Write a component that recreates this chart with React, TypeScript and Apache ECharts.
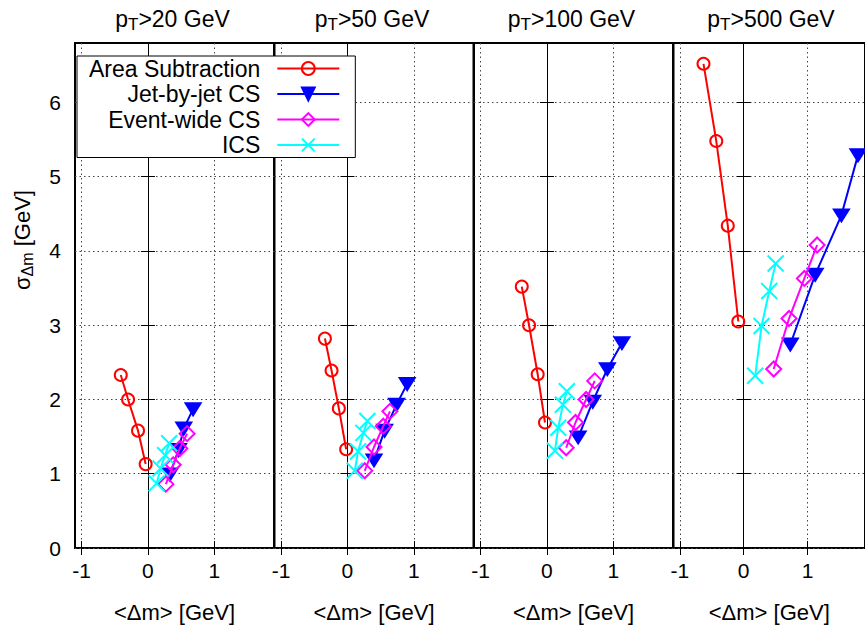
import React, { useEffect, useRef } from "react";
import * as echarts from "echarts";

const FONT = "'Liberation Sans', Arial, Helvetica, sans-serif";

const ptCuts = ["20", "50", "100", "500"];
const seriesNames = ["Area Subtraction", "Jet-by-jet CS", "Event-wide CS", "ICS"];
const xTickValues = [-1, 0, 1];
const yTickValues = [0, 1, 2, 3, 4, 5, 6];
const xRange = [-1.1, 1.9];
const yRange = [0, 6.8];

// [<Δm>, σ_Δm] per panel (pT > 20, 50, 100, 500 GeV)
const areaSubtraction = [
  [[-0.41, 2.33], [-0.30, 2.00], [-0.15, 1.58], [-0.035, 1.13]],
  [[-0.34, 2.82], [-0.24, 2.39], [-0.13, 1.88], [-0.02, 1.33]],
  [[-0.38, 3.52], [-0.27, 3.00], [-0.14, 2.34], [-0.03, 1.69]],
  [[-0.63, 6.52], [-0.43, 5.48], [-0.25, 4.34], [-0.085, 3.05]],
];
const jetByJetCS = [
  [[0.33, 0.99], [0.46, 1.32], [0.54, 1.61], [0.68, 1.87]],
  [[0.40, 1.18], [0.56, 1.58], [0.74, 1.93], [0.90, 2.21]],
  [[0.47, 1.49], [0.69, 1.97], [0.91, 2.41], [1.13, 2.76]],
  [[0.73, 2.74], [1.12, 3.68], [1.53, 4.48], [1.79, 5.29]],
];
const eventWideCS = [
  [[0.27, 0.86], [0.38, 1.12], [0.48, 1.34], [0.59, 1.54]],
  [[0.26, 1.04], [0.40, 1.36], [0.54, 1.64], [0.64, 1.84]],
  [[0.29, 1.35], [0.43, 1.69], [0.59, 2.00], [0.72, 2.25]],
  [[0.47, 2.41], [0.71, 3.09], [0.95, 3.63], [1.15, 4.08]],
];
const ics = [
  [[0.13, 0.87], [0.19, 1.07], [0.26, 1.25], [0.32, 1.41]],
  [[0.11, 1.04], [0.16, 1.30], [0.24, 1.55], [0.30, 1.71]],
  [[0.12, 1.31], [0.17, 1.62], [0.24, 1.93], [0.30, 2.11]],
  [[0.18, 2.32], [0.28, 2.99], [0.40, 3.46], [0.50, 3.83]],
];

const seriesData = [areaSubtraction, jetByJetCS, eventWideCS, ics];
const colors = ["#ff0000", "#0000ff", "#ff00ff", "#00ffff"];

const PANEL_LEFTS = [75, 274.5, 474, 673.5];
const PANEL_W = 199;
const PANEL_TOP = 43;
const PANEL_H = 505;

const symbolDefs = [
  { symbol: "circle", size: 12, fill: "rgba(0,0,0,0)" },
  { symbol: "path://M0,0L14,0L7,11Z", size: [15, 12], fill: "#0000ff" },
  { symbol: "diamond", size: 15, fill: "rgba(0,0,0,0)" },
  { symbol: "path://M0,0L10,10M10,0L0,10", size: 16, fill: "rgba(0,0,0,0)" },
];

export default function App() {
  const ref = useRef<HTMLDivElement>(null);
  useEffect(() => {
    if (!ref.current) return;
    const chart = echarts.init(ref.current, null, { renderer: "svg" });

    const grids: any[] = [];
    const xAxes: any[] = [];
    const yAxes: any[] = [];
    const series: any[] = [];
    const gridLineStyle = { color: "#444", width: 1, type: [1.5, 3] };

    PANEL_LEFTS.forEach((left, i) => {
      grids.push({
        left,
        top: PANEL_TOP,
        width: PANEL_W,
        height: PANEL_H,
        show: true,
        borderColor: "#000",
        borderWidth: 2,
        backgroundColor: "transparent",
        containLabel: false,
      });
      xAxes.push({
        type: "value",
        gridIndex: i,
        position: "bottom",
        min: xRange[0],
        max: xRange[1],
        axisLine: { show: false },
        axisTick: { show: true, inside: true, length: 7, customValues: xTickValues, lineStyle: { color: "#000", width: 1 } },
        axisLabel: { show: true, customValues: xTickValues, fontSize: 21, color: "#000", fontFamily: FONT, margin: 12 },
        splitLine: { show: true, lineStyle: gridLineStyle },
        name: "<Δm> [GeV]",
        nameLocation: "middle",
        nameGap: 53,
        nameTextStyle: { fontSize: 22, color: "#000", fontFamily: FONT },
      });
      xAxes.push({
        type: "value",
        gridIndex: i,
        position: "top",
        min: xRange[0],
        max: xRange[1],
        axisLine: { show: false },
        axisTick: { show: true, inside: true, length: 7, customValues: xTickValues, lineStyle: { color: "#000", width: 1 } },
        axisLabel: { show: false, customValues: xTickValues },
        splitLine: { show: false },
      });
      yAxes.push({
        type: "value",
        gridIndex: i,
        position: "left",
        min: yRange[0],
        max: yRange[1],
        axisLine: { show: false },
        axisTick: { show: true, inside: true, length: 7, customValues: yTickValues, lineStyle: { color: "#000", width: 1 } },
        axisLabel: { show: i === 0, customValues: yTickValues, fontSize: 21, color: "#000", fontFamily: FONT, margin: 14 },
        splitLine: { show: true, lineStyle: gridLineStyle },
      });
      yAxes.push({
        type: "value",
        gridIndex: i,
        position: "right",
        min: yRange[0],
        max: yRange[1],
        axisLine: { show: false },
        axisTick: { show: true, inside: true, length: 7, customValues: yTickValues, lineStyle: { color: "#000", width: 1 } },
        axisLabel: { show: false, customValues: yTickValues },
        splitLine: { show: false },
      });

      seriesNames.forEach((name, s) => {
        const sd = symbolDefs[s];
        const item: any = {
          type: "line",
          name,
          xAxisIndex: 2 * i,
          yAxisIndex: 2 * i,
          data: seriesData[s][i],
          symbol: sd.symbol,
          symbolSize: sd.size,
          showSymbol: true,
          showAllSymbol: true,
          lineStyle: { color: colors[s], width: 2 },
          itemStyle: { color: sd.fill, borderColor: colors[s], borderWidth: 2 },
          emphasis: { disabled: true },
          z: 3 + s,
        };
        if (s === 0) {
          item.markLine = {
            silent: true,
            symbol: ["none", "none"],
            label: { show: false },
            lineStyle: { color: "#000", width: 1, type: "solid" },
            emphasis: { disabled: true },
            data: [{ xAxis: 0 }],
            z: 1,
          };
        }
        series.push(item);
      });
    });

    const graphics: any[] = PANEL_LEFTS.map((left, i) => ({
      type: "text",
      x: left + PANEL_W / 2 - 2,
      y: 19,
      style: {
        text: `{p|p}{s|T}{p|>${ptCuts[i]} GeV}`,
        align: "center",
        verticalAlign: "middle",
        rich: {
          p: { fontSize: 23, fontFamily: FONT, fill: "#000", lineHeight: 28, verticalAlign: "middle" },
          s: { fontSize: 17, fontFamily: FONT, fill: "#000", lineHeight: 17, verticalAlign: "bottom" },
        },
      },
    }));
    graphics.push({
      type: "text",
      x: 22,
      y: 240,
      rotation: Math.PI / 2,
      style: {
        text: "{a|σ}{b|Δm}{a| [GeV]}",
        align: "center",
        verticalAlign: "middle",
        rich: {
          a: { fontSize: 22, fontFamily: FONT, fill: "#000", lineHeight: 27, verticalAlign: "middle" },
          b: { fontSize: 16, fontFamily: FONT, fill: "#000", lineHeight: 16, verticalAlign: "bottom" },
        },
      },
    });

    chart.setOption({
      animation: false,
      backgroundColor: "#fff",
      textStyle: { fontFamily: FONT },
      grid: grids,
      xAxis: xAxes,
      yAxis: yAxes,
      series,
      graphic: graphics,
      legend: {
        data: seriesNames,
        orient: "vertical",
        align: "right",
        left: 77,
        top: 56,
        itemWidth: 62,
        itemHeight: 16,
        itemGap: 2.5,
        padding: [1, 15, 1, 12],
        backgroundColor: "#fff",
        borderColor: "#000",
        borderWidth: 1,
        borderRadius: 0,
        selectedMode: false,
        formatter: (n: string) => `{a|${n}}`,
        textStyle: {
          rich: {
            a: { fontSize: 23, fontFamily: FONT, color: "#000", lineHeight: 25.5, padding: [0, 12, 0, 0] },
          },
        },
        z: 10,
      },
    });

    return () => chart.dispose();
  }, []);

  return (
    <div
      ref={ref}
      style={{ position: "fixed", left: 0, top: 0, width: 865, height: 633 }}
    />
  );
}
